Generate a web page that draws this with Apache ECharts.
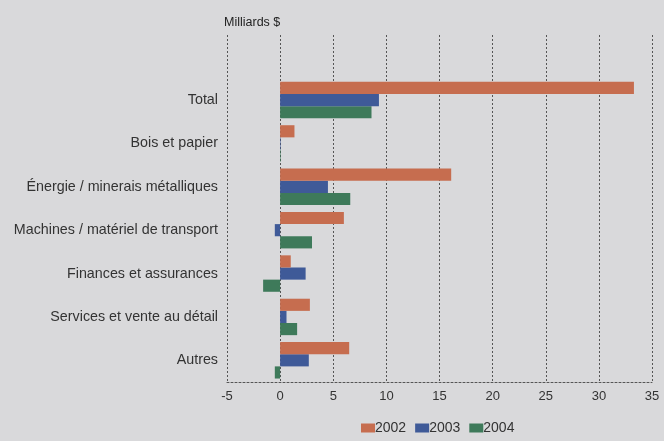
<!DOCTYPE html>
<html>
<head>
<meta charset="utf-8">
<script src="https://cdn.jsdelivr.net/npm/echarts@6/dist/echarts.min.js"></script>
<style>
  html, body { margin: 0; padding: 0; background: #d9d9db; }
  #chart { width: 664px; height: 441px; }
</style>
</head>
<body>
<div id="chart"></div>
<script>
// categories, bottom to top
const categories = [
  'Autres',
  'Services et vente au détail',
  'Finances et assurances',
  'Machines / matériel de transport',
  'Énergie / minerais métalliques',
  'Bois et papier',
  'Total'
]
const years = ['2002', '2003', '2004']
const v2002 = [6.5, 2.8, 1.0, 6.0, 16.1, 1.35, 33.3]
const v2003 = [2.7, 0.6, 2.4, -0.5, 4.5, 0.05, 9.3]
const v2004 = [-0.5, 1.6, -1.6, 3.0, 6.6, 0.05, 8.6]
const colors = ['#c66d4f', '#3f5a98', '#3e7a5a']

const font = 'Liberation Sans, Arial, sans-serif'
const dotted = { color: '#555', type: [2, 2], width: 1 }

const chart = echarts.init(document.getElementById('chart'))

const mkSeries = (name, data, i) => ({
  name,
  type: 'bar',
  data,
  barGap: '0%',
  barCategoryGap: '16%',
  itemStyle: { color: colors[i] },
  z: 3 - i
})

chart.setOption({
  backgroundColor: '#d9d9db',
  animation: false,
  textStyle: { fontFamily: font },
  title: {
    text: 'Milliards $',
    left: 224,
    top: 16,
    padding: 0,
    textStyle: { fontSize: 12.5, fontWeight: 'normal', color: '#222', fontFamily: font }
  },
  grid: { left: 227, right: 12, top: 35, bottom: 59 },
  legend: {
    bottom: 1,
    left: 356,
    icon: 'rect',
    itemWidth: 14,
    itemHeight: 9,
    itemGap: 9,
    textStyle: { fontSize: 14, color: '#333', fontFamily: font, padding: [0, 0, 0, -5] },
    data: years
  },
  xAxis: {
    type: 'value',
    min: -5,
    max: 35,
    interval: 5,
    axisLine: { show: true, lineStyle: dotted },
    axisTick: { show: false },
    axisLabel: { fontSize: 13, color: '#333', margin: 8, fontFamily: font },
    splitLine: { show: true, lineStyle: dotted }
  },
  yAxis: {
    type: 'category',
    data: categories,
    max: categories.length,
    axisLine: { show: false },
    axisTick: { show: false },
    axisLabel: { fontSize: 14.3, color: '#333', margin: 9, fontFamily: font },
    splitLine: { show: false }
  },
  series: [
    mkSeries(years[0], v2002, 0),
    mkSeries(years[1], v2003, 1),
    mkSeries(years[2], v2004, 2)
  ]
})
</script>
</body>
</html>
